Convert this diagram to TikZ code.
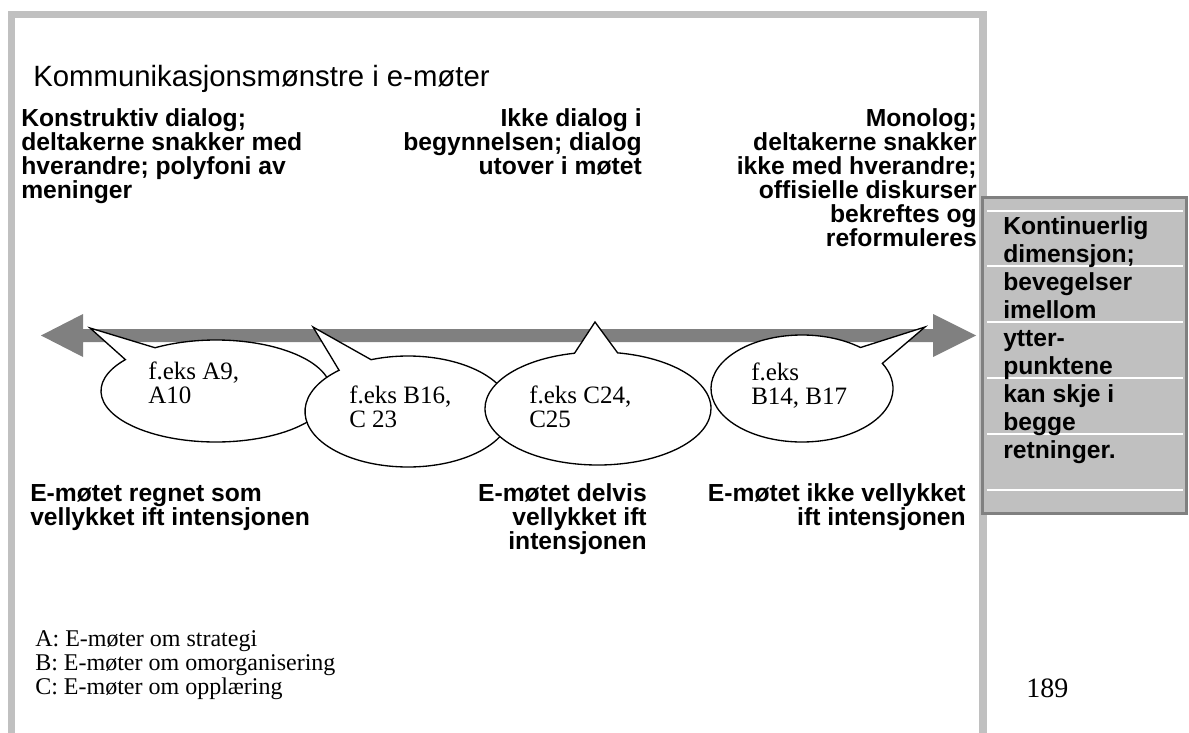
\documentclass[tikz,border=0pt]{standalone}
\usepackage{fontspec}
\usetikzlibrary{calc}
\setmainfont{Liberation Serif}
\newfontfamily\arialfont{Liberation Sans}
\definecolor{framegray}{HTML}{C0C0C0}
\definecolor{arrowgray}{HTML}{808080}
\tikzset{
  lbl/.style={inner sep=0pt, font=\arialfont\bfseries\fontsize{18.5}{18}\selectfont},
  bubtxt/.style={inner sep=0pt, anchor=base west, font=\fontsize{18.75}{18.4}\selectfont},
  legtxt/.style={inner sep=0pt, anchor=base west, font=\fontsize{18}{18}\selectfont},
  bubble/.style={fill=white, draw=black, line width=1pt, line join=miter},
}
\begin{document}
\begin{tikzpicture}[x=0.75pt,y=0.75pt]
\useasboundingbox (0,0) rectangle (1189,-732);
% frame
\draw[framegray, line width=5.6pt] (11.75,-740) -- (11.75,-14.5) -- (983,-14.5) -- (983,-740);
% title
\node[inner sep=0pt, anchor=base west, font=\arialfont\fontsize{22}{24}\selectfont] (title) at (33,-86) {Kommunikasjonsmønstre i e-møter};
% top labels
\foreach \t [count=\i] in {{Konstruktiv dialog;},{deltakerne snakker med},{hverandre; polyfoni av},{meninger}}
  \node[lbl, anchor=base west] (l1-\i) at (21,{-126-24*(\i-1)}) {\t};
\foreach \t [count=\i] in {{Ikke dialog i},{begynnelsen; dialog},{utover i møtet}}
  \node[lbl, anchor=base east] (l2-\i) at (642,{-126-24*(\i-1)}) {\t};
\foreach \t [count=\i] in {{Monolog;},{deltakerne snakker},{ikke med hverandre;},{offisielle diskurser},{bekreftes og},{reformuleres}}
  \node[lbl, anchor=base east] (l3-\i) at (977,{-126-24*(\i-1)}) {\t};
% double arrow
\fill[arrowgray] (41,-335.5) -- (83,-314) -- (83,-329) -- (933,-329) -- (933,-314) -- (976,-335.5)
  -- (933,-357) -- (933,-342) -- (83,-342) -- (83,-357) -- cycle;
% bubbles
\coordinate (c1) at (216,-391);
\coordinate (t1) at (90,-328);
\draw[bubble] ($(c1)+(122:115 and 51)$) -- (t1) -- ($(c1)+(142:115 and 51)$)
  arc[start angle=142, end angle=482, x radius=115, y radius=51] -- cycle;
\coordinate (c2) at (408,-411.5);
\coordinate (t2) at (313,-327);
\draw[bubble] ($(c2)+(111:103 and 55.5)$) -- (t2) -- ($(c2)+(132:103 and 55.5)$)
  arc[start angle=132, end angle=471, x radius=103, y radius=55.5] -- cycle;
\coordinate (c3) at (598,-408.5);
\coordinate (t3) at (595,-322);
\draw[bubble] ($(c3)+(80:113 and 56.5)$) -- (t3) -- ($(c3)+(102:113 and 56.5)$)
  arc[start angle=102, end angle=440, x radius=113, y radius=56.5] -- cycle;
\coordinate (c4) at (802,-388.5);
\coordinate (t4) at (925,-327);
\draw[bubble] ($(c4)+(28:91 and 53.5)$) -- (t4) -- ($(c4)+(50:91 and 53.5)$)
  arc[start angle=50, end angle=388, x radius=91, y radius=53.5] -- cycle;
% bubble texts
\node[bubtxt] (b1a) at (148,-379) {f.eks A9,};
\node[bubtxt] (b1b) at (148,-403) {A10};
\node[bubtxt] (b2a) at (349,-403) {f.eks B16,};
\node[bubtxt] (b2b) at (349,-427) {C 23};
\node[bubtxt] (b3a) at (529,-403) {f.eks C24,};
\node[bubtxt] (b3b) at (529,-427) {C25};
\node[bubtxt] (b4a) at (751,-380) {f.eks};
\node[bubtxt] (b4b) at (751,-404) {B14, B17};
% bottom labels
\foreach \t [count=\i] in {{E-møtet regnet som},{vellykket ift intensjonen}}
  \node[lbl, anchor=base west] (d1-\i) at (30,{-501-24*(\i-1)}) {\t};
\foreach \t [count=\i] in {{E-møtet delvis},{vellykket ift},{intensjonen}}
  \node[lbl, anchor=base east] (d2-\i) at (647,{-501-24*(\i-1)}) {\t};
\foreach \t [count=\i] in {{E-møtet ikke vellykket},{ift intensjonen}}
  \node[lbl, anchor=base east] (d3-\i) at (966,{-501-24*(\i-1)}) {\t};
% right grey box
\filldraw[fill=framegray, draw=arrowgray, line width=2.6pt] (982.75,-197.75) rectangle (1186.25,-513.25);
\foreach \yy in {211,266,322,378,434,490}
  \draw[white, line width=0.8pt] (987,-\yy) -- (1183,-\yy);
\foreach \t [count=\i] in {{Kontinuerlig},{dimensjon;},{bevegelser},{imellom},{ytter-},{punktene},{kan skje i},{begge},{retninger.}}
  \node[lbl, anchor=base west] (box-\i) at (1003,{-234-28*(\i-1)}) {\t};
% legend
\node[legtxt] (lega) at (35,-646) {A: E-møter om strategi};
\node[legtxt] (legb) at (35,-670) {B: E-møter om omorganisering};
\node[legtxt] (legc) at (35,-694) {C: E-møter om opplæring};
\node[inner sep=0pt, anchor=base west, font=\fontsize{21}{24}\selectfont] (pg) at (1026,-697) {189};
\end{tikzpicture}
\end{document}
